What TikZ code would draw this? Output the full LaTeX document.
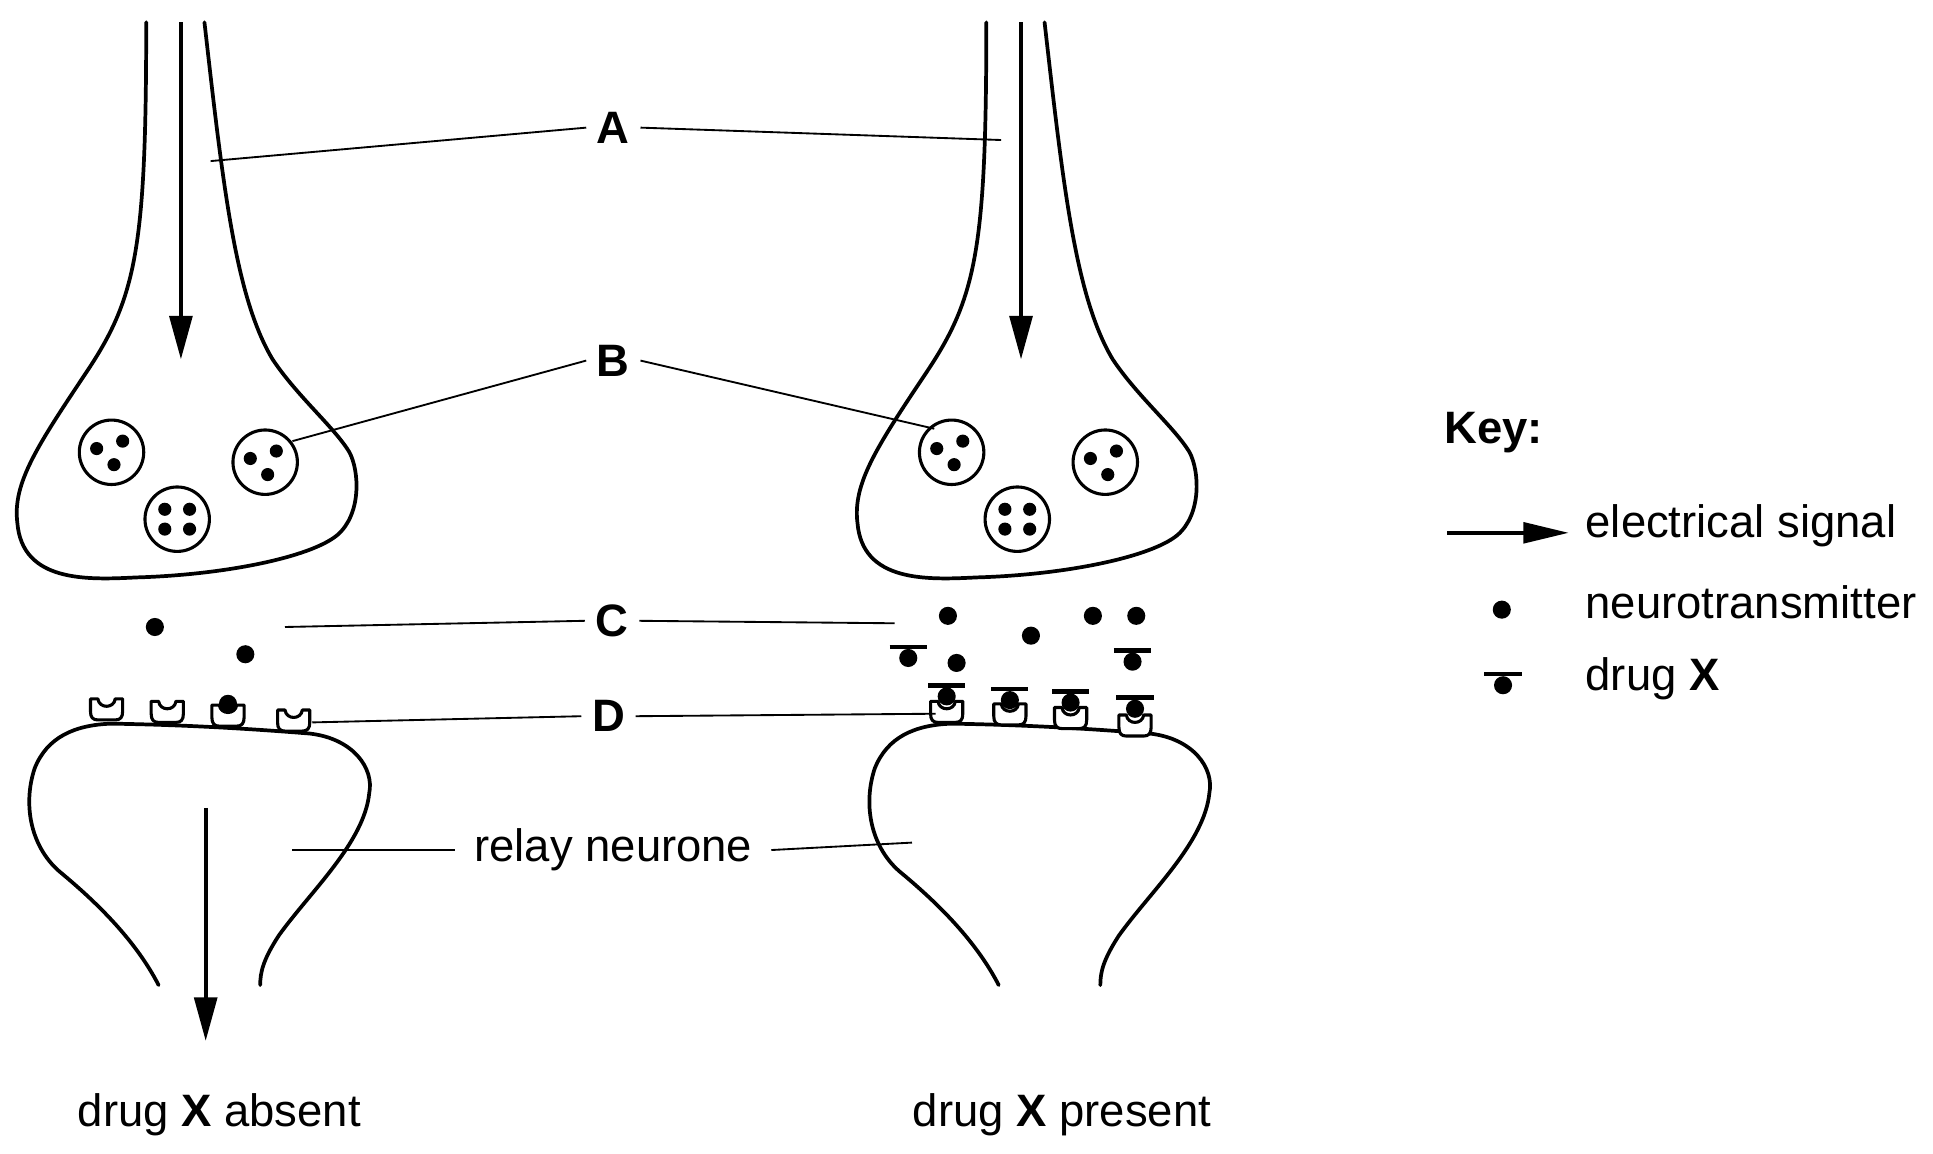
\documentclass[tikz,border=0pt]{standalone}
\usepackage{fontspec}
\setmainfont{Liberation Sans}
\usetikzlibrary{arrows.meta}
\begin{document}
\begin{tikzpicture}[x=0.6pt,y=-0.6pt,
  cell/.style={line width=1.8pt,line cap=round,line join=round},
  ves/.style={line width=1.5pt},
  lead/.style={line width=0.9pt},
  sig/.style={line width=1.8pt,-{Triangle[length=21pt,width=11pt]}},
  lab/.style={font=\fontsize{22}{26}\selectfont\bfseries,inner sep=5pt},
  txt/.style={font=\fontsize{22}{26}\selectfont,inner sep=2pt},
  nt/.style={fill=black,radius=7.3},
  sd/.style={fill=black,radius=5.3},
  receptor/.pic={\draw[line width=1.5pt,fill=white,line join=round]
     (-13,0) -- (-13,10) .. controls (-13,15) and (-11,17) .. (-7,17) -- (7,17)
     .. controls (11,17) and (13,15) .. (13,10) -- (13,0) -- (7,0)
     .. controls (6,8) and (-6,8) .. (-7,0) -- cycle;},
  drug/.pic={\draw[line width=2.2pt] (-15,0) -- (15,0); \fill (0,9) circle[radius=7.3];}
]
\useasboundingbox (0,0) rectangle (1560,930.6);

\foreach \o/\nm in {0/L,678/R}{
\begin{scope}[xshift=\o*0.6pt]
 \draw[cell] (118,18) .. controls (118,200) and (110,240) .. (70,300)
   .. controls (30,360) and (10,390) .. (14,422)
   .. controls (18,470) and (70,468) .. (110,466)
   .. controls (180,464) and (250,450) .. (272,432)
   .. controls (292,415) and (290,380) .. (282,365)
   .. controls (270,345) and (240,320) .. (220,290)
   .. controls (190,240) and (180,150) .. (165,18);
 \coordinate (\nm top) at (146,18);
 \coordinate (\nm tip) at (146,290);
 \draw[sig] (\nm top) -- (\nm tip);
 \draw[ves] (90,365) circle[radius=26];
 \fill (78,362) circle[sd]; \fill (99,356) circle[sd]; \fill (92,375) circle[sd];
 \draw[ves] (143,419) circle[radius=26];
 \fill (133,411) circle[sd]; \fill (153,411) circle[sd];
 \fill (133,427) circle[sd]; \fill (153,427) circle[sd];
 \draw[ves] (214,373) circle[radius=26];
 \fill (202,370) circle[sd]; \fill (223,364) circle[sd]; \fill (216,383) circle[sd];
 \draw[cell] (128,795) .. controls (110,760) and (80,730) .. (50,705)
   .. controls (25,685) and (18,650) .. (28,620)
   .. controls (38,595) and (60,585) .. (90,584)
   .. controls (150,585) and (200,588) .. (250,592)
   .. controls (285,596) and (302,620) .. (298,640)
   .. controls (294,680) and (250,720) .. (225,755)
   .. controls (212,775) and (210,785) .. (210,795);
\end{scope}}

% left cleft
\fill (125,506) circle[nt]; \fill (198,528) circle[nt];
\pic at (86,564) {receptor}; \pic at (135,566) {receptor};
\pic at (184,569) {receptor}; \pic at (237,573) {receptor};
\fill (184,568) circle[nt];
\coordinate (Lbot) at (166,652); \coordinate (Lend) at (166,840);
\draw[sig] (Lbot) -- (Lend);

% right cleft
\fill (765,497) circle[nt]; \fill (772,535) circle[nt]; \fill (832,513) circle[nt];
\fill (882,497) circle[nt]; \fill (917,497) circle[nt];
\pic at (733,522) {drug}; \pic at (914,525) {drug};
\pic at (764,566) {receptor}; \pic at (815,568) {receptor};
\pic at (864,571) {receptor}; \pic at (916,577) {receptor};
\pic at (764,553) {drug}; \pic at (815,556) {drug};
\pic at (864,558) {drug}; \pic at (916,563) {drug};

% labels
\node[lab] (A) at (495,103) {A};
\node[lab] (B) at (495,291) {B};
\node[lab] (C) at (494,501) {C};
\node[lab] (D) at (491,578) {D};
\node[txt,inner sep=9pt] (relay) at (495,686) {relay neurone};
\coordinate (a1) at (170,130); \coordinate (a2) at (808,113);
\coordinate (b1) at (236,356); \coordinate (b2) at (754,346);
\coordinate (c1) at (230,506); \coordinate (c2) at (722,503);
\coordinate (d1) at (252,583); \coordinate (d2) at (755,576);
\coordinate (r1) at (236,686); \coordinate (r2) at (736,680);
\draw[lead] (a1) -- (A.west); \draw[lead] (A.east) -- (a2);
\draw[lead] (b1) -- (B.west); \draw[lead] (B.east) -- (b2);
\draw[lead] (c1) -- (C.west); \draw[lead] (C.east) -- (c2);
\draw[lead] (d1) -- (D.west); \draw[lead] (D.east) -- (d2);
\draw[lead] (r1) -- (relay.west); \draw[lead] (relay.east) -- (r2);

\node[txt] (absent) at (177,900) {drug \textbf{X} absent};
\node[txt] (present) at (857,900) {drug \textbf{X} present};

% key
\node[lab,anchor=west,inner sep=2pt] (key) at (1162,349) {Key:};
\coordinate (k1) at (1168,430); \coordinate (k2) at (1266,430);
\draw[line width=1.8pt,-{Triangle[length=22pt,width=10pt]}] (k1) -- (k2);
\node[txt,anchor=west] (es) at (1276,424) {electrical signal};
\fill (1212,492) circle[nt];
\node[txt,anchor=west] (ntx) at (1276,486) {neurotransmitter};
\pic at (1213,544) {drug};
\node[txt,anchor=west] (dx) at (1276,548) {drug \textbf{X}};
\end{tikzpicture}
\end{document}
